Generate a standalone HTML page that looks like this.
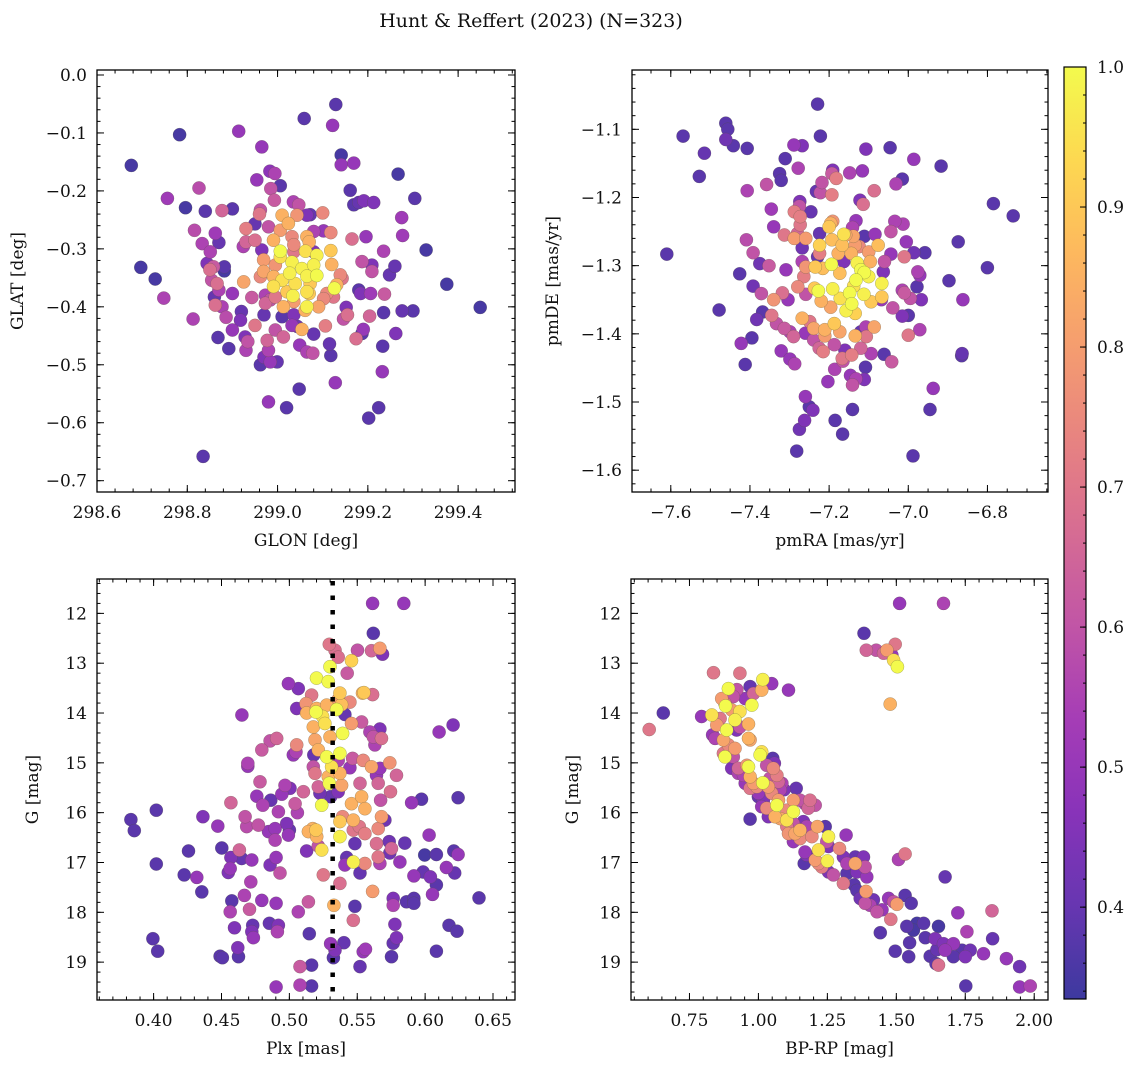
<!DOCTYPE html>
<html><head><meta charset="utf-8">
<style>
html,body{margin:0;padding:0;background:#fff;}
svg{display:block;font-family:"DejaVu Serif","Liberation Serif",serif;}
</style></head>
<body>
<svg id="fig" width="1136" height="1067" viewBox="0 0 1136 1067" xmlns="http://www.w3.org/2000/svg">
<rect x="0" y="0" width="1136" height="1067" fill="#fff"/>
<text x="531" y="27" font-size="19" text-anchor="middle" fill="#111">Hunt &amp; Reffert (2023) (N=323)</text>
<defs>
<linearGradient id="cbgrad" x1="0" y1="1" x2="0" y2="0">
<stop offset="0" stop-color="#3f3798"/>
</linearGradient>
</defs>
</svg>
<script>
// ---------- Panel 1: GLON vs GLAT ----------
const p1Glon=[298.676,298.783,298.914,298.965,299.059,299.129,299.122,299.141,299.141,299.169,299.267,299.304,299.275,299.277,299.329,299.375,299.449,298.697,298.729,298.748,298.813,298.756,298.796,298.826,298.816,298.840,298.877,298.900,298.954,298.983,298.994,299.006,298.985,298.993,298.962,298.960,298.950,298.980,298.930,298.930,298.924,298.862,298.833,298.870,298.851,298.844,298.858,298.882,298.882,298.850,298.854,298.866,298.870,298.860,298.862,298.877,298.886,298.900,298.925,298.943,298.920,298.918,298.900,298.868,298.892,298.928,298.934,298.930,298.950,298.970,298.962,298.970,298.980,298.977,298.984,298.999,298.995,299.013,298.980,299.020,299.048,298.835,299.128,299.202,299.224,299.232,299.233,299.235,299.262,299.276,299.300,299.248,299.260,299.235,299.209,299.209,299.187,299.196,299.165,299.237,299.206,299.184,299.180,299.204,299.190,299.187,299.174,299.155,299.146,299.152,299.115,299.118,299.106,299.080,299.078,299.065,299.049,299.044,299.054,299.032,299.010,299.036,299.161,299.169,299.180,299.191,299.213,299.035,299.047,299.065,299.072,299.100,299.080,299.102,299.118,299.010,299.043,299.024,299.006,298.991,299.032,299.065,299.070,299.036,299.062,299.087,299.118,299.120,299.006,299.006,298.969,298.995,299.032,299.054,299.080,298.969,298.962,298.991,299.027,299.039,299.010,299.065,299.087,299.072,298.991,299.021,299.034,299.065,299.070,299.126,299.139,299.143,299.131,299.109,299.124,299.013,299.036,299.065,299.061,299.091,299.102,298.995,298.973,298.984,298.973,298.965,298.950,299.080,299.036];
const p1Glat=[-0.156,-0.103,-0.097,-0.124,-0.075,-0.051,-0.087,-0.138,-0.155,-0.152,-0.171,-0.213,-0.246,-0.277,-0.302,-0.361,-0.401,-0.332,-0.352,-0.385,-0.421,-0.213,-0.229,-0.195,-0.268,-0.235,-0.234,-0.231,-0.181,-0.166,-0.170,-0.191,-0.196,-0.216,-0.233,-0.240,-0.257,-0.262,-0.265,-0.288,-0.296,-0.273,-0.291,-0.289,-0.305,-0.325,-0.331,-0.331,-0.338,-0.336,-0.354,-0.360,-0.371,-0.383,-0.397,-0.400,-0.418,-0.377,-0.357,-0.384,-0.408,-0.423,-0.440,-0.453,-0.472,-0.452,-0.460,-0.475,-0.432,-0.414,-0.500,-0.487,-0.475,-0.458,-0.495,-0.495,-0.440,-0.452,-0.564,-0.574,-0.542,-0.658,-0.531,-0.592,-0.574,-0.512,-0.468,-0.410,-0.446,-0.407,-0.407,-0.345,-0.330,-0.304,-0.339,-0.328,-0.322,-0.279,-0.283,-0.378,-0.377,-0.377,-0.371,-0.416,-0.439,-0.446,-0.455,-0.414,-0.421,-0.401,-0.464,-0.484,-0.433,-0.447,-0.480,-0.478,-0.466,-0.434,-0.439,-0.432,-0.417,-0.414,-0.199,-0.224,-0.220,-0.217,-0.220,-0.219,-0.224,-0.242,-0.241,-0.238,-0.270,-0.269,-0.272,-0.242,-0.242,-0.256,-0.268,-0.285,-0.279,-0.279,-0.288,-0.293,-0.304,-0.311,-0.303,-0.327,-0.304,-0.314,-0.319,-0.328,-0.323,-0.334,-0.328,-0.339,-0.348,-0.348,-0.342,-0.360,-0.354,-0.347,-0.346,-0.360,-0.365,-0.374,-0.381,-0.374,-0.377,-0.368,-0.345,-0.351,-0.362,-0.377,-0.383,-0.400,-0.391,-0.400,-0.406,-0.400,-0.386,-0.383,-0.394,-0.388,-0.380,-0.302,-0.285,-0.305,-0.305];
const p1Prob=[0.35,0.35,0.5,0.5,0.38,0.38,0.5,0.35,0.5,0.5,0.35,0.38,0.52,0.52,0.35,0.35,0.35,0.35,0.35,0.55,0.55,0.52,0.35,0.58,0.58,0.38,0.65,0.38,0.5,0.48,0.55,0.38,0.6,0.62,0.6,0.7,0.4,0.6,0.72,0.65,0.55,0.52,0.55,0.4,0.55,0.45,0.62,0.38,0.35,0.68,0.6,0.68,0.55,0.4,0.68,0.55,0.58,0.5,0.82,0.62,0.4,0.45,0.5,0.38,0.38,0.45,0.6,0.55,0.7,0.4,0.38,0.45,0.55,0.65,0.5,0.4,0.6,0.65,0.5,0.38,0.38,0.38,0.5,0.38,0.38,0.5,0.38,0.38,0.45,0.4,0.38,0.4,0.4,0.55,0.6,0.45,0.6,0.5,0.68,0.62,0.52,0.45,0.38,0.65,0.5,0.38,0.68,0.68,0.6,0.45,0.4,0.38,0.72,0.4,0.6,0.55,0.5,0.42,0.85,0.5,0.38,0.45,0.38,0.38,0.4,0.45,0.45,0.55,0.6,0.45,0.4,0.75,0.55,0.5,0.75,0.85,0.78,0.85,0.8,0.85,0.75,0.85,0.85,0.75,0.95,0.98,0.9,0.85,1.0,0.95,0.8,0.78,0.98,0.98,0.98,0.82,0.75,0.85,0.98,0.95,0.95,0.98,1.0,0.9,0.95,0.9,0.98,0.95,0.9,1.0,0.75,0.7,0.85,0.75,0.7,0.85,0.8,0.98,0.85,0.82,0.75,0.7,0.65,0.6,0.55,0.45,0.68,0.45,0.7];

// ---------- Panel 2: pmRA vs pmDE ----------
const p2Pmra=[-7.229,-7.569,-7.461,-7.456,-7.461,-7.442,-7.407,-7.515,-7.528,-7.222,-7.289,-7.268,-7.311,-7.278,-7.325,-7.321,-7.358,-7.407,-7.232,-7.222,-7.218,-7.191,-7.193,-7.182,-7.193,-7.148,-7.116,-7.107,-7.046,-6.986,-6.917,-7.015,-7.031,-7.086,-7.122,-7.114,-6.785,-6.735,-7.346,-7.340,-7.274,-7.275,-7.246,-7.288,-7.273,-7.273,-7.280,-7.313,-7.409,-7.392,-7.375,-7.352,-7.426,-7.392,-7.371,-7.478,-7.368,-7.383,-7.340,-7.345,-7.333,-7.309,-7.318,-7.304,-7.313,-7.299,-7.395,-7.422,-7.412,-7.321,-7.299,-7.287,-7.260,-7.250,-7.241,-7.262,-7.275,-7.282,-7.185,-7.166,-7.141,-7.203,-7.186,-7.165,-7.160,-7.146,-7.132,-7.111,-7.141,-7.108,-7.094,-7.061,-7.042,-7.000,-6.971,-6.937,-6.945,-6.988,-6.864,-6.865,-6.862,-6.800,-6.897,-6.874,-6.958,-6.986,-6.976,-6.971,-6.978,-6.967,-7.000,-7.015,-7.010,-6.995,-7.015,-7.039,-7.010,-7.005,-7.013,-7.034,-7.044,-7.044,-7.084,-7.060,-7.063,-7.068,-7.111,-7.132,-7.141,-7.139,-7.158,-7.163,-7.196,-7.191,-7.200,-7.224,-7.193,-7.167,-7.134,-7.124,-7.100,-7.076,-7.096,-7.144,-7.177,-7.268,-7.288,-7.259,-7.224,-7.229,-7.268,-7.259,-7.235,-7.216,-7.194,-7.173,-7.163,-7.129,-7.120,-7.111,-7.100,-7.132,-7.067,-7.191,-7.227,-7.237,-7.264,-7.279,-7.259,-7.220,-7.196,-7.172,-7.148,-7.138,-7.112,-7.094,-7.067,-7.143,-7.157,-7.134,-7.268,-7.249,-7.239,-7.211,-7.211,-7.187,-7.173,-7.134,-7.107,-7.086,-7.106,-7.120,-7.239,-7.225,-7.215,-7.187,-7.167,-7.143,-7.120,-7.260,-7.290,-7.224,-7.610];
const p2Pmde=[-1.063,-1.110,-1.091,-1.100,-1.115,-1.124,-1.128,-1.135,-1.169,-1.110,-1.123,-1.124,-1.143,-1.157,-1.165,-1.175,-1.181,-1.190,-1.191,-1.193,-1.178,-1.160,-1.165,-1.172,-1.196,-1.164,-1.161,-1.129,-1.127,-1.144,-1.154,-1.173,-1.180,-1.190,-1.204,-1.210,-1.209,-1.227,-1.217,-1.243,-1.206,-1.213,-1.221,-1.221,-1.228,-1.240,-1.253,-1.255,-1.262,-1.281,-1.297,-1.300,-1.312,-1.330,-1.341,-1.365,-1.368,-1.379,-1.350,-1.373,-1.385,-1.306,-1.340,-1.350,-1.392,-1.397,-1.406,-1.414,-1.445,-1.425,-1.437,-1.444,-1.492,-1.507,-1.512,-1.527,-1.540,-1.572,-1.527,-1.547,-1.511,-1.470,-1.452,-1.440,-1.424,-1.461,-1.466,-1.467,-1.475,-1.449,-1.429,-1.430,-1.441,-1.402,-1.394,-1.480,-1.511,-1.579,-1.429,-1.432,-1.350,-1.303,-1.322,-1.265,-1.281,-1.281,-1.309,-1.314,-1.331,-1.350,-1.373,-1.374,-1.340,-1.348,-1.336,-1.362,-1.287,-1.265,-1.239,-1.235,-1.250,-1.283,-1.254,-1.294,-1.309,-1.350,-1.257,-1.234,-1.244,-1.257,-1.255,-1.254,-1.238,-1.235,-1.243,-1.270,-1.262,-1.270,-1.270,-1.272,-1.280,-1.270,-1.294,-1.282,-1.282,-1.274,-1.260,-1.260,-1.253,-1.287,-1.294,-1.302,-1.302,-1.304,-1.298,-1.311,-1.294,-1.296,-1.306,-1.310,-1.316,-1.321,-1.326,-1.334,-1.337,-1.333,-1.316,-1.331,-1.342,-1.352,-1.361,-1.348,-1.340,-1.330,-1.342,-1.353,-1.346,-1.356,-1.366,-1.370,-1.377,-1.382,-1.392,-1.394,-1.403,-1.385,-1.397,-1.403,-1.390,-1.390,-1.404,-1.397,-1.409,-1.421,-1.426,-1.416,-1.436,-1.431,-1.421,-1.399,-1.404,-1.282,-1.283];
const p2Prob=[0.38,0.38,0.38,0.38,0.42,0.38,0.38,0.4,0.38,0.38,0.5,0.45,0.38,0.55,0.38,0.38,0.6,0.55,0.4,0.6,0.6,0.45,0.62,0.72,0.72,0.55,0.5,0.45,0.38,0.5,0.38,0.38,0.55,0.68,0.45,0.68,0.38,0.38,0.52,0.5,0.45,0.6,0.4,0.72,0.72,0.7,0.65,0.7,0.58,0.6,0.42,0.62,0.38,0.42,0.6,0.38,0.38,0.42,0.78,0.7,0.6,0.5,0.68,0.5,0.62,0.55,0.38,0.5,0.38,0.5,0.5,0.55,0.5,0.38,0.45,0.45,0.42,0.38,0.38,0.38,0.38,0.5,0.55,0.6,0.45,0.5,0.55,0.45,0.6,0.38,0.55,0.38,0.62,0.7,0.55,0.5,0.38,0.38,0.4,0.38,0.5,0.38,0.38,0.38,0.38,0.42,0.55,0.5,0.38,0.45,0.38,0.45,0.62,0.6,0.55,0.6,0.7,0.5,0.55,0.55,0.6,0.5,0.5,0.6,0.45,0.5,0.38,0.5,0.55,0.82,0.82,0.95,0.85,0.78,0.9,0.92,0.88,0.88,0.8,0.75,0.8,0.88,0.85,0.85,0.85,0.42,0.8,0.8,0.4,0.4,0.55,0.78,0.9,0.88,1.0,0.88,0.45,0.98,1.0,1.0,0.98,1.0,0.98,0.98,1.0,0.9,0.72,0.75,0.6,0.85,0.82,0.95,1.0,0.95,0.98,0.9,0.9,1.0,0.98,0.92,0.85,0.7,0.82,0.85,0.8,0.9,0.82,0.85,0.55,0.82,0.7,0.4,0.6,0.65,0.72,0.6,0.7,0.72,0.65,0.5,0.65,0.72,0.38];

// ---------- Panel 3: Plx vs G ----------
const p3Plx=[0.3833,0.3858,0.402,0.402,0.3995,0.403,0.4257,0.4225,0.4318,0.4355,0.4363,0.4473,0.4502,0.449,0.4507,0.465,0.4569,0.4569,0.4564,0.455,0.4576,0.4564,0.4596,0.462,0.4625,0.4632,0.4649,0.4674,0.4686,0.4694,0.4694,0.4716,0.4723,0.4669,0.4706,0.473,0.4723,0.4735,0.476,0.4772,0.4784,0.4797,0.4797,0.4804,0.4846,0.4863,0.4853,0.4858,0.4858,0.4907,0.4895,0.4895,0.4902,0.4902,0.4912,0.4931,0.4919,0.4902,0.4919,0.4993,0.5066,0.4968,0.5005,0.4944,0.498,0.5,0.4993,0.5029,0.5049,0.5054,0.5042,0.5059,0.5054,0.5066,0.5078,0.5078,0.5103,0.5123,0.5127,0.5127,0.514,0.5147,0.5164,0.5164,0.5164,0.5176,0.518,0.52,0.52,0.5196,0.5176,0.5189,0.5213,0.5189,0.5213,0.5225,0.5238,0.5196,0.5172,0.514,0.5201,0.5238,0.5213,0.525,0.5245,0.5262,0.5275,0.5287,0.5294,0.5299,0.5299,0.5275,0.5311,0.5287,0.5294,0.5304,0.5304,0.5328,0.5336,0.5324,0.5336,0.536,0.5348,0.536,0.5372,0.5385,0.5409,0.5392,0.5372,0.536,0.5372,0.5385,0.536,0.5392,0.5372,0.5372,0.5372,0.5402,0.5422,0.5409,0.5426,0.5458,0.5446,0.5458,0.5466,0.5446,0.5458,0.5471,0.5471,0.5483,0.5471,0.5471,0.5483,0.5502,0.552,0.5532,0.5539,0.5549,0.5515,0.552,0.5532,0.5544,0.5556,0.5544,0.552,0.5561,0.5556,0.5556,0.5613,0.5618,0.5613,0.5605,0.5667,0.5686,0.5593,0.5618,0.5667,0.5679,0.563,0.5605,0.5642,0.5654,0.5667,0.5672,0.5679,0.5704,0.5654,0.5642,0.5654,0.5667,0.5735,0.5752,0.574,0.574,0.5745,0.5789,0.5613,0.5765,0.5765,0.5777,0.5789,0.5765,0.5752,0.5843,0.5814,0.585,0.5863,0.5917,0.5917,0.59,0.5973,0.5917,0.5985,0.5997,0.6029,0.6039,0.6054,0.6083,0.6083,0.6083,0.6103,0.6157,0.6206,0.6211,0.6218,0.6243,0.6243,0.6176,0.6235,0.6397];
const p3G=[16.14,16.36,15.95,17.03,18.53,18.78,16.77,17.25,17.3,17.59,16.08,16.27,16.71,18.88,18.91,14.04,15.8,16.9,17.12,17.2,17.77,17.99,18.31,18.71,18.89,16.75,16.92,16.08,16.28,15.01,15.07,17.39,16.95,17.66,17.94,18.26,18.39,18.51,15.67,16.25,15.38,14.74,17.76,15.85,16.38,15.75,18.22,17.05,14.56,14.51,16.32,16.55,16.9,17.82,18.39,17.21,15.98,19.5,18.26,13.41,13.51,15.45,15.51,15.63,16.22,16.35,16.45,14.84,14.78,14.64,15.82,16.0,13.91,17.99,19.09,19.46,15.58,13.81,14.0,16.77,17.79,18.43,19.06,19.48,13.64,15.08,14.84,13.91,13.3,13.98,14.28,14.54,14.74,15.21,15.48,15.61,15.85,16.35,16.32,16.38,16.48,16.75,16.67,17.25,14.07,14.21,13.84,13.37,12.62,13.07,14.48,14.88,15.08,15.28,15.41,15.68,18.63,17.86,18.76,18.91,12.74,12.88,13.93,13.73,13.6,13.83,14.03,14.41,14.81,14.95,15.21,15.45,15.58,16.08,16.18,16.48,17.42,18.61,16.9,17.05,13.2,12.95,13.78,14.21,14.91,15.1,15.82,16.15,16.35,16.62,16.99,18.16,17.88,12.74,15.41,15.68,13.6,13.59,16.28,17.21,14.18,14.95,15.92,18.79,19.09,18.74,16.42,17.02,11.8,12.4,13.63,12.75,12.7,12.82,14.38,14.48,14.32,14.51,14.64,15.08,15.25,15.41,15.11,15.75,16.08,16.15,16.32,16.62,16.89,17.02,16.58,16.72,16.81,15.0,15.58,15.25,17.58,17.72,17.86,18.24,18.51,18.62,18.89,11.8,16.99,16.61,17.79,17.72,17.82,15.8,15.73,17.27,17.19,16.85,16.45,17.29,17.64,17.45,16.84,18.78,14.38,17.1,14.24,16.77,17.21,16.84,15.7,18.26,18.38,17.71];
const p3Prob=[0.38,0.38,0.38,0.38,0.38,0.38,0.38,0.38,0.5,0.38,0.45,0.5,0.38,0.38,0.38,0.5,0.65,0.45,0.5,0.45,0.38,0.55,0.45,0.45,0.38,0.65,0.4,0.6,0.58,0.55,0.5,0.55,0.5,0.55,0.62,0.4,0.45,0.5,0.5,0.6,0.62,0.62,0.5,0.55,0.5,0.4,0.4,0.45,0.6,0.65,0.5,0.55,0.5,0.5,0.55,0.6,0.55,0.5,0.45,0.5,0.45,0.55,0.45,0.5,0.45,0.4,0.5,0.5,0.55,0.75,0.62,0.55,0.45,0.55,0.62,0.55,0.65,0.78,0.85,0.45,0.62,0.38,0.38,0.38,0.7,0.6,0.4,0.85,1.0,1.0,0.85,0.82,0.85,0.7,0.65,0.42,1.0,0.9,0.85,0.85,0.85,0.95,0.6,0.7,0.95,0.95,0.85,1.0,0.7,1.0,0.85,1.0,0.95,0.85,1.0,0.4,0.5,0.85,0.45,0.38,0.68,0.68,1.0,0.8,0.9,0.88,0.4,1.0,1.0,0.55,0.85,0.82,0.45,0.75,0.9,0.98,0.68,0.4,0.4,0.5,0.62,0.92,0.75,0.8,0.62,0.5,0.85,0.85,0.7,0.4,0.98,0.68,0.38,0.6,0.65,0.85,0.85,0.9,0.7,0.4,0.62,0.75,0.85,0.5,0.4,0.52,0.72,0.75,0.5,0.38,0.68,0.65,0.8,0.45,0.55,0.6,0.45,0.68,0.55,0.82,0.5,0.65,0.5,0.6,0.8,0.42,0.75,0.68,0.7,0.55,0.42,0.65,0.42,0.78,0.68,0.65,0.8,0.45,0.55,0.45,0.45,0.4,0.38,0.5,0.5,0.4,0.38,0.38,0.38,0.5,0.38,0.5,0.4,0.35,0.5,0.45,0.5,0.38,0.38,0.38,0.5,0.5,0.45,0.38,0.4,0.5,0.38,0.38,0.38,0.38];
const p3PlxLine=[0.5319];

// ---------- Panel 4: BP-RP vs G ----------
const p4Bprp=[0.604,0.655,0.794,0.837,0.933,1.016,1.012,1.048,1.109,0.970,0.982,0.891,0.922,0.867,0.879,0.881,0.909,0.903,0.933,0.952,0.976,0.831,0.849,0.834,0.843,0.861,0.885,0.915,0.921,0.933,0.964,0.964,0.970,0.873,0.891,0.915,0.873,0.879,0.909,0.903,0.927,0.927,0.946,0.952,0.958,0.964,0.970,0.982,0.970,0.994,1.000,1.000,1.006,1.012,1.030,1.052,1.058,1.054,1.067,1.016,1.042,1.036,1.073,1.085,1.048,1.079,1.093,1.018,1.012,1.030,1.036,1.067,1.073,1.060,1.079,1.103,1.103,1.127,1.127,1.137,1.151,1.169,1.187,1.206,1.181,0.970,1.127,1.103,1.109,1.133,1.151,1.151,1.127,1.163,1.175,1.194,1.214,1.242,1.254,1.248,1.254,1.218,1.169,1.175,1.166,1.206,1.218,1.230,1.250,1.294,1.318,1.308,1.321,1.351,1.351,1.381,1.387,1.254,1.272,1.308,1.321,1.357,1.347,1.393,1.357,1.390,1.369,1.387,1.417,1.405,1.430,1.448,1.472,1.502,1.490,1.532,1.554,1.480,1.442,1.538,1.575,1.599,1.562,1.605,1.548,1.496,1.545,1.653,1.641,1.671,1.707,1.647,1.677,1.738,1.768,1.623,1.707,1.750,1.644,1.653,1.816,1.849,1.756,1.723,1.847,1.677,1.508,1.532,1.899,1.947,1.947,1.986,1.752,1.512,1.671,1.383,1.391,1.427,1.454,1.466,1.496,1.484,1.490,1.504,1.478];
const p4G=[14.33,14.0,14.07,13.19,13.2,13.33,13.54,13.41,13.54,13.47,13.61,13.51,13.53,13.71,13.81,13.86,13.67,13.94,13.97,13.71,13.84,14.04,14.24,14.44,14.51,14.11,14.34,14.14,14.34,14.28,14.22,14.51,14.54,14.54,14.64,14.71,14.81,14.88,14.88,15.11,15.11,15.21,15.25,15.41,15.05,15.08,15.28,15.41,15.51,15.48,15.61,15.68,14.84,14.78,15.05,14.91,15.01,15.11,15.25,15.4,15.31,15.48,15.38,15.41,15.61,15.54,15.54,15.75,15.88,15.91,16.08,15.85,15.75,16.08,16.12,15.95,16.15,15.98,15.75,15.51,15.75,15.82,15.75,15.85,15.91,16.13,16.22,16.28,16.42,16.42,16.35,16.52,16.58,16.18,16.28,16.48,16.28,16.28,16.48,16.58,16.68,16.75,16.79,16.85,17.02,16.95,17.02,17.09,16.97,16.72,16.45,16.89,17.02,17.02,16.89,16.89,17.09,17.19,17.25,17.42,17.22,17.19,17.45,17.29,17.56,17.58,17.72,17.82,17.75,17.86,17.99,17.95,17.72,17.84,17.79,17.66,17.82,18.14,18.41,18.28,18.22,18.22,18.36,18.51,18.61,18.78,18.89,18.28,18.53,18.63,18.63,18.75,18.76,18.76,18.76,18.88,18.89,18.89,19.03,19.06,18.83,18.53,18.39,18.01,17.97,17.29,16.94,16.83,18.93,19.09,19.5,19.48,19.48,11.8,11.8,12.4,12.74,12.74,12.8,12.74,12.62,12.84,12.94,13.07,13.82];
const p4Prob=[0.7,0.38,0.5,0.7,0.7,0.98,0.85,0.5,0.5,0.4,0.65,1.0,0.6,0.8,0.7,1.0,0.6,0.8,0.95,0.5,1.0,0.95,0.8,0.5,0.55,0.7,1.0,0.98,0.45,0.6,0.85,0.85,0.82,0.82,0.75,0.8,0.7,1.0,0.6,0.45,0.65,0.55,0.55,0.5,0.78,1.0,0.85,0.8,0.7,0.75,0.5,0.4,1.0,0.95,0.6,0.38,0.45,0.75,0.72,1.0,0.6,0.8,0.65,0.55,0.75,0.55,0.45,0.45,0.5,0.75,0.45,1.0,0.8,0.85,0.82,0.75,0.95,1.0,0.8,0.4,0.6,0.55,0.68,0.6,0.65,0.38,0.6,0.7,0.78,0.82,0.85,0.75,0.5,0.45,0.55,0.75,0.82,0.38,0.98,0.6,0.45,0.95,0.5,0.45,0.38,0.8,0.75,0.72,0.98,0.75,0.5,0.45,0.55,0.82,0.4,0.45,0.6,0.45,0.6,0.7,0.38,0.45,0.38,0.5,0.38,0.8,0.42,0.6,0.42,0.55,0.6,0.5,0.5,0.8,0.6,0.38,0.38,0.7,0.38,0.38,0.35,0.38,0.35,0.38,0.38,0.38,0.38,0.35,0.45,0.45,0.5,0.4,0.5,0.38,0.42,0.38,0.38,0.45,0.38,0.68,0.5,0.4,0.55,0.5,0.65,0.4,0.55,0.7,0.5,0.42,0.5,0.55,0.38,0.5,0.55,0.38,0.65,0.6,0.65,0.8,0.7,0.5,0.95,1.0,0.85];

// ---------- Colorbar ----------
const cbTicks=[0.4,0.5,0.6,0.7,0.8,0.9,1.0];
const cbRange=[0.3344,1.0];

const NS="http://www.w3.org/2000/svg";
const svg=document.getElementById('fig');
const plasma=[[13,8,135],[65,4,157],[106,0,168],[143,13,164],[177,42,144],[204,71,120],[225,100,98],[242,132,75],[252,166,54],[252,206,37],[240,249,33]];
function cmap(v){
  let t=(v-cbRange[0])/(cbRange[1]-cbRange[0]);t=Math.max(0,Math.min(1,t));
  const f=t*10,i=Math.min(9,Math.floor(f)),r=f-i;
  const c=plasma[i].map((a,k)=>a+(plasma[i+1][k]-a)*r);
  return 'rgb('+c.map(a=>Math.round(a*0.8+255*0.2)).join(',')+')';
}
function mk(tag,attrs,parent){
  const e=document.createElementNS(NS,tag);
  for(const k in attrs)e.setAttribute(k,attrs[k]);
  (parent||svg).appendChild(e);return e;
}
function fmt(v,dec){return (v<0?'\u2212':'')+Math.abs(v).toFixed(dec);}

function panel(cfg){
  const g=mk('g',{});
  
  
  const sx=v=>cfg.x0+(v-cfg.xlim[0])/(cfg.xlim[1]-cfg.xlim[0])*(cfg.x1-cfg.x0);
  const sy=v=>cfg.y0+(v-cfg.ylim[0])/(cfg.ylim[1]-cfg.ylim[0])*(cfg.y1-cfg.y0);
  const clip='clip-'+cfg.name;
  const cp=mk('clipPath',{id:clip},g);
  mk('rect',{x:cfg.x0,y:cfg.y0,width:cfg.x1-cfg.x0,height:cfg.y1-cfg.y0},cp);
  const pg=mk('g',{'clip-path':'url(#'+clip+')'},g);
  
  
  const idx=cfg.xs.map((_,i)=>i).sort((a,b)=>cfg.ps[a]-cfg.ps[b]);
  idx.forEach(i=>{
    const c=mk('circle',{cx:sx(cfg.xs[i]).toFixed(1),cy:sy(cfg.ys[i]).toFixed(1),r:6.6,fill:cmap(cfg.ps[i]),stroke:'rgba(80,80,60,0.45)','stroke-width':0.5},pg);
    
    
  });
  if(cfg.vline){
    cfg.vline.forEach(v=>{
      const l=mk('line',{x1:sx(v),x2:sx(v),y1:cfg.y0+2,y2:cfg.y1,stroke:'#000','stroke-width':4.5,'stroke-dasharray':'4.5 10'},pg);
      
      
    });
  }
  const tg=mk('g',{stroke:'#000','stroke-width':1},g);
  function ticksX(step,len){
    const s=Math.ceil(Math.min(...cfg.xlim)/step-1e-6);const e=Math.floor(Math.max(...cfg.xlim)/step+1e-6);
    for(let k=s;k<=e;k++){const x=sx(k*step);
      mk('line',{x1:x,x2:x,y1:cfg.y1,y2:cfg.y1-len},tg);mk('line',{x1:x,x2:x,y1:cfg.y0,y2:cfg.y0+len},tg);}
  }
  function ticksY(step,len){
    const lo=Math.min(...cfg.ylim),hi=Math.max(...cfg.ylim);
    const s=Math.ceil(lo/step-1e-6);const e=Math.floor(hi/step+1e-6);
    for(let k=s;k<=e;k++){const y=sy(k*step);
      mk('line',{x1:cfg.x0,x2:cfg.x0+len,y1:y,y2:y},tg);mk('line',{x1:cfg.x1,x2:cfg.x1-len,y1:y,y2:y},tg);}
  }
  ticksX(cfg.xminor,3.5);ticksX(cfg.xmajor,7);ticksY(cfg.yminor,3.5);ticksY(cfg.ymajor,7);
  cfg.xticks.forEach(v=>{
    const t=mk('text',{x:sx(v),y:cfg.y1+26,'font-size':17,'text-anchor':'middle',fill:'#111'},g);
    t.textContent=fmt(v,cfg.xdec);
    
    
  });
  cfg.yticks.forEach(v=>{
    const t=mk('text',{x:cfg.x0-10,y:sy(v)+6,'font-size':17,'text-anchor':'end',fill:'#111'},g);
    t.textContent=fmt(v,cfg.ydec);
    
    
  });
  const xl=mk('text',{x:(cfg.x0+cfg.x1)/2,y:cfg.y1+54,'font-size':17,'text-anchor':'middle',fill:'#111'},g);
  xl.textContent=cfg.xlabel;
  
  
  const yx=cfg.ylabx,yy=(cfg.y0+cfg.y1)/2;
  const yl=mk('text',{x:yx,y:yy,'font-size':17,'text-anchor':'middle',fill:'#111',transform:'rotate(-90 '+yx+' '+yy+')'},g);
  yl.textContent=cfg.ylabel;
  
  
  const fr=mk('rect',{x:cfg.x0,y:cfg.y0,width:cfg.x1-cfg.x0,height:cfg.y1-cfg.y0,fill:'none',stroke:'#000','stroke-width':1.3},g);
  
  
}

panel({name:'glon-glat-panel',x0:97,x1:515,y0:70,y1:492,xlim:[298.6,299.526],ylim:[0.0086,-0.7195],
  xs:p1Glon,ys:p1Glat,ps:p1Prob,xmajor:0.2,xminor:0.04,ymajor:0.1,yminor:0.02,
  xticks:[298.6,298.8,299.0,299.2,299.4],xdec:1,yticks:[0,-0.1,-0.2,-0.3,-0.4,-0.5,-0.6,-0.7],ydec:1,
  xlabel:'GLON [deg]',ylabel:'GLAT [deg]',ylabx:23});
panel({name:'pm-panel',x0:632,x1:1048,y0:70,y1:492,xlim:[-7.698,-6.647],ylim:[-1.013,-1.632],
  xs:p2Pmra,ys:p2Pmde,ps:p2Prob,xmajor:0.2,xminor:0.05,ymajor:0.1,yminor:0.02,
  xticks:[-7.6,-7.4,-7.2,-7.0,-6.8],xdec:1,yticks:[-1.1,-1.2,-1.3,-1.4,-1.5,-1.6],ydec:1,
  xlabel:'pmRA [mas/yr]',ylabel:'pmDE [mas/yr]',ylabx:558});
panel({name:'plx-g-panel',x0:97,x1:515,y0:579,y1:1000,xlim:[0.3583,0.6662],ylim:[11.31,19.76],
  xs:p3Plx,ys:p3G,ps:p3Prob,vline:p3PlxLine,xmajor:0.05,xminor:0.01,ymajor:1,yminor:0.2,
  xticks:[0.40,0.45,0.50,0.55,0.60,0.65],xdec:2,yticks:[12,13,14,15,16,17,18,19],ydec:0,
  xlabel:'Plx [mas]',ylabel:'G [mag]',ylabx:38});
panel({name:'cmd-panel',x0:631,x1:1048,y0:579,y1:1000,xlim:[0.538,2.05],ylim:[11.31,19.76],
  xs:p4Bprp,ys:p4G,ps:p4Prob,xmajor:0.25,xminor:0.05,ymajor:1,yminor:0.2,
  xticks:[0.75,1.00,1.25,1.50,1.75,2.00],xdec:2,yticks:[12,13,14,15,16,17,18,19],ydec:0,
  xlabel:'BP-RP [mag]',ylabel:'G [mag]',ylabx:578});

(function(){
  const cx0=1064,cx1=1086,cy0=67,cy1=999;
  const cg=mk('g',{});
  
  
  const grad=document.getElementById('cbgrad');
  grad.innerHTML='';
  for(let i=0;i<=20;i++){const v=cbRange[0]+(cbRange[1]-cbRange[0])*i/20;
    mk('stop',{offset:i/20,'stop-color':cmap(v)},grad);}
  mk('rect',{x:cx0,y:cy0,width:cx1-cx0,height:cy1-cy0,fill:'url(#cbgrad)'},cg);
  const sy=v=>cy1-(v-cbRange[0])/(cbRange[1]-cbRange[0])*(cy1-cy0);
  for(let k=Math.ceil(cbRange[0]/0.02);k<=50;k++){const y=sy(k*0.02);
    mk('line',{x1:cx1,x2:cx1-3,y1:y,y2:y,stroke:'#000','stroke-width':1},cg);}
  cbTicks.forEach(v=>{const y=sy(v);
    mk('line',{x1:cx1,x2:cx1-6,y1:y,y2:y,stroke:'#000','stroke-width':1},cg);
    const t=mk('text',{x:cx1+11,y:y+6,'font-size':17,fill:'#111'},cg);
    t.textContent=v.toFixed(1);
    
    
  });
  mk('rect',{x:cx0,y:cy0,width:cx1-cx0,height:cy1-cy0,fill:'none',stroke:'#000','stroke-width':1.2},cg);
})();
</script>
</body></html>
